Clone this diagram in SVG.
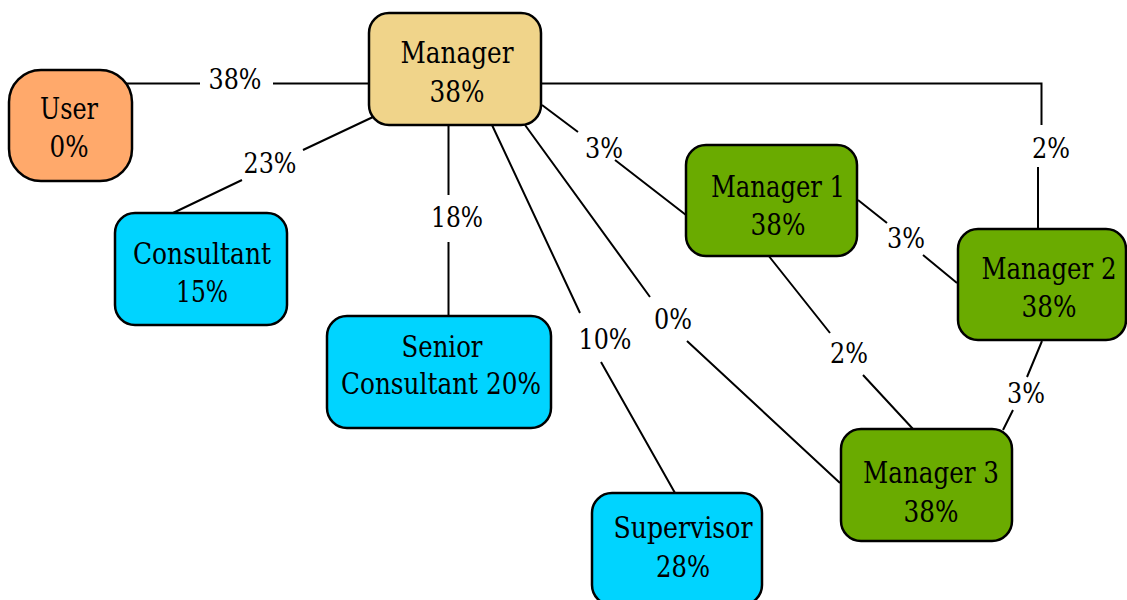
<svg xmlns="http://www.w3.org/2000/svg" width="1127" height="600" viewBox="0 0 1127 600">
<style>
.n rect{stroke:#000;stroke-width:2.5}
text{font-family:"DejaVu Serif Condensed","DejaVu Serif","Liberation Serif",serif;fill:#000;text-anchor:middle}
.n text{font-size:29px}
.user{fill:#FFA96B}
.mgr{fill:#F0D48A}
.cons{fill:#00D4FF}
.grn{fill:#6AAB00}
#edges path{fill:none;stroke:#000;stroke-width:2}
#edges text{font-size:27px}
</style>
<rect width="1127" height="600" fill="#fff"/>
<g id="edges">
<path d="M122,83.5H200M273,83.5H369"/>
<text x="235" y="89" textLength="53" lengthAdjust="spacingAndGlyphs">38%</text>
<path d="M373,117L303,150M242,180L173,213"/>
<text x="270" y="173" textLength="53" lengthAdjust="spacingAndGlyphs">23%</text>
<path d="M448.5,125V195M448.5,242V316"/>
<text x="457" y="227" textLength="52" lengthAdjust="spacingAndGlyphs">18%</text>
<path d="M492,125L580,313M601,362L675,493"/>
<text x="605" y="349" textLength="53" lengthAdjust="spacingAndGlyphs">10%</text>
<path d="M525,125L650,297M687,341L840,483"/>
<text x="673" y="329" textLength="38" lengthAdjust="spacingAndGlyphs">0%</text>
<path d="M542,105L578,132M615,160L686,215"/>
<text x="604" y="158" textLength="38" lengthAdjust="spacingAndGlyphs">3%</text>
<path d="M541,83.5H1041.5V125M1038,167V229"/>
<text x="1051" y="158" textLength="38" lengthAdjust="spacingAndGlyphs">2%</text>
<path d="M858,200L887,223M923,255L957,283"/>
<text x="906" y="248" textLength="38" lengthAdjust="spacingAndGlyphs">3%</text>
<path d="M768,255L830,333M863,375L913,429"/>
<text x="849" y="363" textLength="38" lengthAdjust="spacingAndGlyphs">2%</text>
<path d="M1042,341L1027,377M1013,410L1003,430"/>
<text x="1026" y="403" textLength="38" lengthAdjust="spacingAndGlyphs">3%</text>
</g>
<g id="user" class="n"><rect class="user" x="9" y="70" width="123" height="111" rx="32"/><text x="69" y="119" textLength="58" lengthAdjust="spacingAndGlyphs">User</text><text x="69" y="157" textLength="39" lengthAdjust="spacingAndGlyphs">0%</text></g>
<g id="manager" class="n"><rect class="mgr" x="369" y="13" width="172" height="112" rx="20"/><text x="457" y="63" textLength="113" lengthAdjust="spacingAndGlyphs">Manager</text><text x="457" y="102" textLength="55" lengthAdjust="spacingAndGlyphs">38%</text></g>
<g id="consultant" class="n"><rect class="cons" x="115" y="213" width="172" height="112" rx="20"/><text x="202" y="264" textLength="138" lengthAdjust="spacingAndGlyphs">Consultant</text><text x="202" y="302" textLength="52" lengthAdjust="spacingAndGlyphs">15%</text></g>
<g id="senior" class="n"><rect class="cons" x="327" y="316" width="224" height="112" rx="20"/><text x="442" y="357" textLength="81" lengthAdjust="spacingAndGlyphs">Senior</text><text x="441" y="394" textLength="200" lengthAdjust="spacingAndGlyphs">Consultant 20%</text></g>
<g id="supervisor" class="n"><rect class="cons" x="592" y="493" width="170" height="112" rx="20"/><text x="683" y="538" textLength="139" lengthAdjust="spacingAndGlyphs">Supervisor</text><text x="683" y="577" textLength="54" lengthAdjust="spacingAndGlyphs">28%</text></g>
<g id="manager1" class="n"><rect class="grn" x="686" y="145" width="171" height="111" rx="20"/><text x="778" y="197" textLength="134" lengthAdjust="spacingAndGlyphs">Manager 1</text><text x="778" y="235" textLength="55" lengthAdjust="spacingAndGlyphs">38%</text></g>
<g id="manager2" class="n"><rect class="grn" x="958" y="229" width="168" height="111" rx="20"/><text x="1049" y="279" textLength="135" lengthAdjust="spacingAndGlyphs">Manager 2</text><text x="1049" y="317" textLength="55" lengthAdjust="spacingAndGlyphs">38%</text></g>
<g id="manager3" class="n"><rect class="grn" x="841" y="429" width="171" height="112" rx="20"/><text x="931" y="483" textLength="136" lengthAdjust="spacingAndGlyphs">Manager 3</text><text x="931" y="522" textLength="55" lengthAdjust="spacingAndGlyphs">38%</text></g>
</svg>
